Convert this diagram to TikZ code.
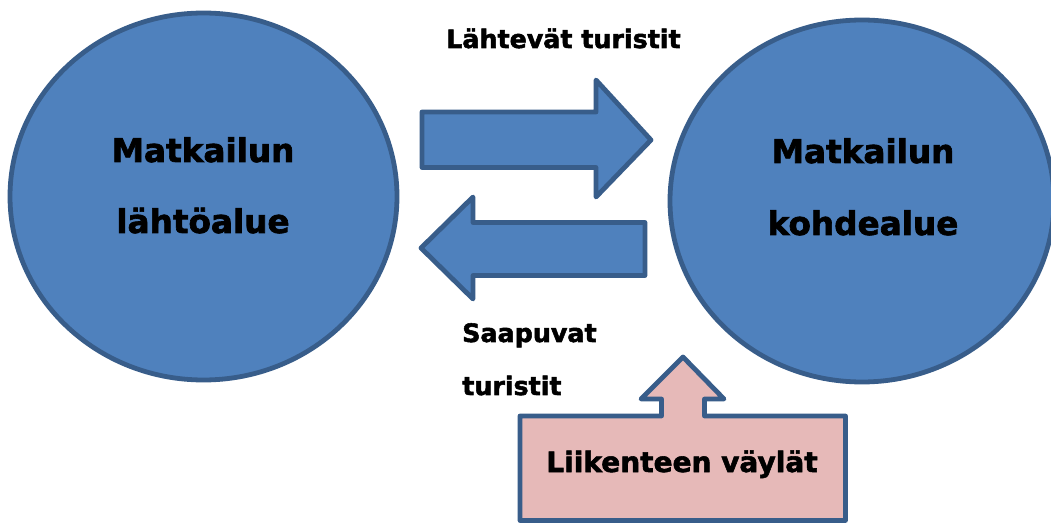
\documentclass[tikz,border=0pt]{standalone}
\usepackage{fontspec}
\setmainfont{DejaVu Sans}[BoldFeatures={FakeBold=2}]
\usetikzlibrary{shapes.geometric}
\definecolor{shapeblue}{HTML}{4F81BD}
\definecolor{edgeblue}{HTML}{385D8A}
\definecolor{pinkfill}{HTML}{E6B9B8}
\tikzset{
  region/.style={ellipse, draw=edgeblue, fill=shapeblue, line width=3.6pt, inner sep=0pt},
  flowarrow/.style={draw=edgeblue, fill=shapeblue, line width=3.6pt, line join=round},
  routebox/.style={draw=edgeblue, fill=pinkfill, line width=3.6pt, line join=round},
  bigtext/.style={font=\fontsize{24.5}{29}\selectfont\bfseries, inner sep=0pt, anchor=base},
  smalltext/.style={font=\fontsize{19}{23}\selectfont\bfseries, inner sep=0pt, anchor=base west},
  boxtext/.style={font=\fontsize{21}{25}\selectfont\bfseries, inner sep=0pt, anchor=base}
}
\begin{document}
\begin{tikzpicture}[x=0.75pt, y=-0.75pt]
\clip (0,0) rectangle (1051,524);
\fill[white] (0,0) rectangle (1051,524);
% regions
\node[region, minimum width=290.25pt, minimum height=275.25pt] (origin) at (203.5,196.5) {};
\node[region, minimum width=288pt, minimum height=271.5pt] (dest) at (862,201) {};
% arrows
\draw[flowarrow] (422,112) -- (596,112) -- (596,80) -- (651,140) -- (596,197) -- (596,167.5) -- (422,167.5) -- cycle;
\draw[flowarrow] (645,222.5) -- (473,222.5) -- (473,197) -- (421,248) -- (473,299) -- (473,275.5) -- (645,275.5) -- cycle;
\draw[routebox] (683,357) -- (724,399) -- (704.5,399) -- (704.5,416) -- (845.5,416) -- (845.5,520.5) -- (520,520.5) -- (520,416) -- (661.5,416) -- (661.5,399) -- (641,399) -- cycle;
% texts
\node[bigtext] (o1) at (203,162) {Matkailun};
\node[bigtext] (o2) at (203,233) {lähtöalue};
\node[bigtext] (d1) at (863,163) {Matkailun};
\node[bigtext] (d2) at (863,235) {kohdealue};
\node[smalltext] (out) at (446,48) {Lähtevät turistit};
\node[smalltext] (in1) at (462,342) {Saapuvat};
\node[smalltext] (in2) at (462,395) {turistit};
\node[boxtext] (route) at (682,472) {Liikenteen väylät};
\end{tikzpicture}
\end{document}
